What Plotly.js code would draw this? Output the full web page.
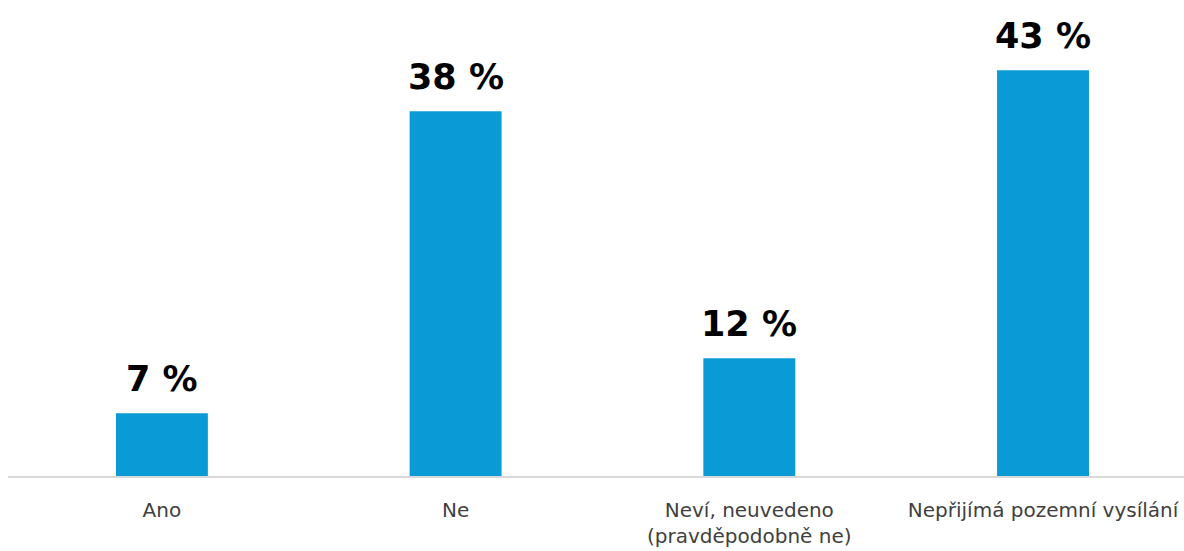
<!DOCTYPE html>
<html>
<head>
<meta charset="utf-8">
<script src="https://cdn.plot.ly/plotly-3.0.1.min.js"></script>
<style>html,body{margin:0;padding:0;background:#fff;}#chart{width:1184px;height:551px;}</style>
</head>
<body>
<div id="chart"></div>
<script>
const categories = ["Ano", "Ne", "Neví, neuvedeno<br>(pravděpodobně ne)", "Nepřijímá pozemní vysílání"];
const values = [6.6, 38.4, 12.4, 42.7];
const valueLabels = ["7 %", "38 %", "12 %", "43 %"];

const xIdx = categories.map((c, i) => i);

const trace = {
  type: 'bar',
  x: xIdx,
  y: values,
  width: 0.313,
  marker: {color: '#0a9bd7'},
  hoverinfo: 'skip'
};

const annotations = xIdx.map((i) => ({
  x: i, y: values[i], xref: 'x', yref: 'y',
  text: valueLabels[i], showarrow: false,
  yanchor: 'bottom', xanchor: 'center', yshift: 12,
  font: {family: 'DejaVu Sans', size: 35, color: '#000000', weight: 'bold'}
}));

const layout = {
  width: 1184, height: 551,
  margin: {l: 8, r: 0, t: 20, b: 75},
  paper_bgcolor: '#ffffff', plot_bgcolor: '#ffffff',
  showlegend: false,
  xaxis: {
    range: [-0.524, 3.48],
    tickmode: 'array', tickvals: xIdx, ticktext: categories,
    showline: true, linecolor: '#d9d9d9', linewidth: 2,
    showgrid: false, zeroline: false, ticks: '',
    ticklabelstandoff: 15,
    tickfont: {family: 'DejaVu Sans', size: 20, color: '#404040'}
  },
  yaxis: {
    range: [0, 48], visible: false, showgrid: false, zeroline: false
  },
  annotations: annotations
};

Plotly.newPlot('chart', [trace], layout, {displayModeBar: false, staticPlot: true});
</script>
</body>
</html>
